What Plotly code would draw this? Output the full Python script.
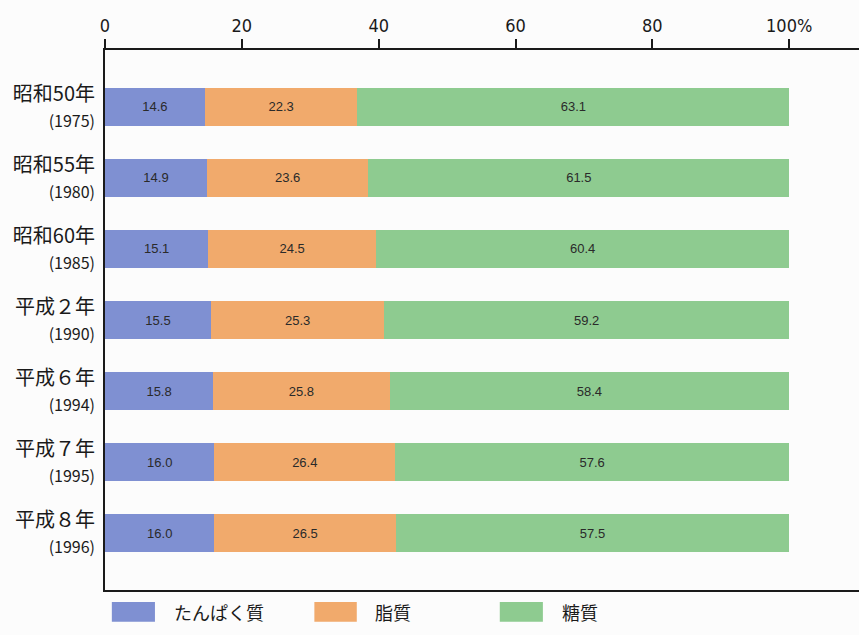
import plotly.graph_objects as go

# 年次ラベル（和暦と西暦）
eras = ["昭和50年", "昭和55年", "昭和60年", "平成２年", "平成６年", "平成７年", "平成８年"]
years = ["1975", "1980", "1985", "1990", "1994", "1995", "1996"]

# エネルギー構成比（%）
protein = [14.6, 14.9, 15.1, 15.5, 15.8, 16.0, 16.0]
fat = [22.3, 23.6, 24.5, 25.3, 25.8, 26.4, 26.5]
carb = [63.1, 61.5, 60.4, 59.2, 58.4, 57.6, 57.5]

series_names = ["たんぱく質", "脂質", "糖質"]
series_colors = ["#7f90d2", "#f1aa6c", "#8ecb90"]

x_ticks = [0, 20, 40, 60, 80, 100]
x_ticktext = ["0", "20", "40", "60", "80", "100%"]

cats = list(range(len(eras)))
labels = [f"{e}<br><span style='font-size:16px'>({y})</span>" for e, y in zip(eras, years)]

fig = go.Figure()
for name, vals, col in zip(series_names, [protein, fat, carb], series_colors):
    fig.add_trace(go.Bar(
        x=vals, y=cats, orientation="h", name=name,
        marker=dict(color=col, line=dict(width=0)),
        width=0.54,
        text=[f"{v:.1f}" for v in vals],
        textposition="inside", insidetextanchor="middle",
        textfont=dict(family="Liberation Sans, Arial, sans-serif", size=13, color="#2a2a2a"),
        constraintext="none",
        showlegend=False,
        hoverinfo="skip",
    ))

# 凡例（色見本と名称）
legend_pos = [(1.0, 7.3, 9.8), (30.6, 36.8, 39.2), (57.7, 64.0, 66.5)]
for (x0, x1, xt), name, col in zip(legend_pos, series_names, series_colors):
    fig.add_shape(type="rect", xref="x", yref="paper", x0=x0, x1=x1,
                  y0=-0.022, y1=-0.059, fillcolor=col, line=dict(width=0))
    fig.add_annotation(xref="x", yref="paper", x=xt, y=-0.041, text=name,
                       showarrow=False, xanchor="left", yanchor="middle",
                       font=dict(family="Noto Sans CJK JP", size=18, color="#1a1a1a"))

fig.update_layout(
    width=859, height=635,
    margin=dict(l=105, r=0, t=50, b=45),
    paper_bgcolor="#fcfcfc", plot_bgcolor="#fcfcfc",
    barmode="stack",
    font=dict(family="Noto Sans CJK JP", color="#1a1a1a"),
    xaxis=dict(
        side="top", range=[0, 110.2],
        tickvals=x_ticks, ticktext=x_ticktext,
        ticks="outside", ticklen=9, tickwidth=2, tickcolor="#1a1a1a",
        showline=True, linewidth=2, linecolor="#1a1a1a", mirror=True,
        showgrid=False, zeroline=False,
        tickfont=dict(family="DejaVu Sans Condensed, Noto Sans", size=18, color="#1a1a1a"),
        fixedrange=True,
    ),
    yaxis=dict(
        range=[6.8, -0.8],
        tickvals=cats, ticktext=labels,
        ticks="", ticklabelstandoff=4,
        showline=True, linewidth=2, linecolor="#1a1a1a",
        showgrid=False, zeroline=False,
        tickfont=dict(family="Noto Sans CJK JP", size=20, color="#1a1a1a"),
        fixedrange=True,
    ),
)

fig.write_html("out.html")
